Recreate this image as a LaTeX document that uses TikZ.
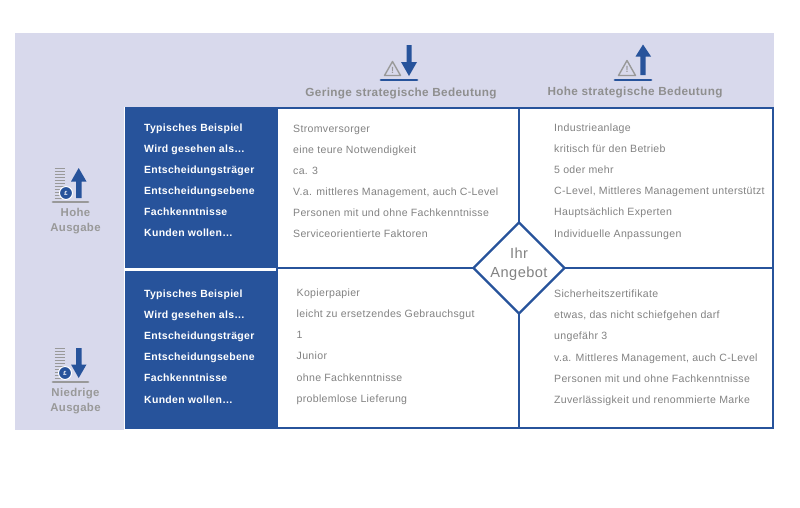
\documentclass[tikz,border=0pt]{standalone}
\usepackage{fontspec}
\setmainfont{Liberation Sans}
\newfontfamily\bodyfont[LetterSpace=3]{Liberation Sans}
\newfontfamily\headfont[LetterSpace=3]{Liberation Sans Bold}
\usetikzlibrary{shapes.geometric}
\definecolor{lav}{HTML}{D8D9EC}
\definecolor{bluem}{HTML}{27539B}
\definecolor{gtext}{HTML}{828282}
\definecolor{ghead}{HTML}{8F8F8F}
\definecolor{gicon}{HTML}{999999}
\tikzset{
  x=1pt,y=-1pt,
  body/.style={anchor=base west,inner sep=0pt,yshift=-3.6pt,text=gtext,font=\bodyfont\fontsize{10.55}{12}\selectfont},
  lab/.style={anchor=base west,inner sep=0pt,yshift=-4.1pt,text=white,font=\headfont\fontsize{10.45}{12}\selectfont},
  head/.style={anchor=base,inner sep=0pt,yshift=-4.8pt,text=ghead,font=\headfont\fontsize{11.75}{13}\selectfont},
  side/.style={anchor=base,inner sep=0pt,yshift=-3.3pt,text=gicon,font=\headfont\fontsize{11.4}{12}\selectfont},
  grid/.style={draw=bluem,line width=2.3pt},
  arrowfill/.style={fill=bluem,draw=none},
  base/.style={line width=2.8pt,line cap=round},
  warn/.style={draw=gicon,line width=1.4pt,line join=round,fill=none},
  stripe/.style={gicon,line width=1.6pt},
  coin/.style={circle,fill=bluem,draw=white,line width=1pt,minimum size=13pt,inner sep=0pt,text=white,font=\headfont\fontsize{6}{6}\selectfont},
}
\begin{document}
\begin{tikzpicture}
\useasboundingbox (0,0) rectangle (800,507);
\fill[white] (0,0) rectangle (800,507);
% lavender
\fill[lav] (15,33) rectangle (774,107);
\fill[lav] (15,33) rectangle (124,430);
% blue column
\fill[bluem] (125,107) rectangle (277,268);
\fill[bluem] (125,270.5) rectangle (277,429);
% grid
\coordinate (tl) at (277,108);
\coordinate (br) at (773,428);
\coordinate (vt) at (519,108);
\coordinate (vb) at (519,428);
\coordinate (hl) at (277,268);
\coordinate (hr) at (773,268);
\fill[white] (tl) rectangle (br);
\draw[grid] (tl) rectangle (br);
\draw[grid] (vt) -- (vb);
\draw[grid] (hl) -- (hr);
\node[diamond,shape aspect=1,minimum width=92pt,minimum height=92pt,inner sep=0pt,fill=white,draw=bluem,line width=2.3pt] (offer) at (519,268) {};
\node[anchor=center,inner sep=0pt,align=center,text=gtext,font=\bodyfont\fontsize{14.6}{19}\selectfont] (offertext) at (519,264) {Ihr\\Angebot};
% headers
\node[head] (h1) at (401,92) {Geringe strategische Bedeutung};
\node[head] (h2) at (635,90.5) {Hohe strategische Bedeutung};
% icon 1
\draw[bluem,base] (381,80) -- (417,80);
\draw[warn] (392.5,61.5) -- (400.5,75.5) -- (384.5,75.5) -- cycle;
\node[inner sep=0pt,text=gicon,font=\headfont\fontsize{9}{9}\selectfont] at (392.5,70) {!};
\fill[arrowfill] (406.5,45) -- (411.5,45) -- (411.5,62) -- (417,62) -- (409,76) -- (401,62) -- (406.5,62) -- cycle;
% icon 2
\draw[bluem,base] (615,80) -- (651,80);
\draw[warn] (627,60.5) -- (635.5,75.5) -- (618.5,75.5) -- cycle;
\node[inner sep=0pt,text=gicon,font=\headfont\fontsize{9}{9}\selectfont] at (627,69.5) {!};
\fill[arrowfill] (643,44.5) -- (651,56.5) -- (645.7,56.5) -- (645.7,75) -- (640.3,75) -- (640.3,56.5) -- (635.5,56.5) -- cycle;
% icon 3 (Hohe Ausgabe)
\foreach \yy in {168.5,171.5,...,198.5} \draw[stripe] (54.5,\yy) -- (64.5,\yy);
\draw[gicon,base] (53,202) -- (88,202);
\fill[arrowfill] (78.7,168) -- (86.5,181.5) -- (81.5,181.5) -- (81.5,198) -- (76,198) -- (76,181.5) -- (71,181.5) -- cycle;
\node[coin] (c1) at (66,193) {£};
% icon 4 (Niedrige Ausgabe)
\foreach \yy in {348.5,351.5,...,378.5} \draw[stripe] (54.5,\yy) -- (64.5,\yy);
\draw[gicon,base] (53,382) -- (88,382);
\fill[arrowfill] (76,348) -- (81.5,348) -- (81.5,364.5) -- (86.5,364.5) -- (78.7,378) -- (71,364.5) -- (76,364.5) -- cycle;
\node[coin] (c2) at (65,373) {£};
% side labels
\node[side] (s1) at (75.5,213) {Hohe};
\node[side] (s2) at (75.5,228) {Ausgabe};
\node[side] (s3) at (75.5,393.5) {Niedrige};
\node[side] (s4) at (75.5,408.5) {Ausgabe};
% labels top
\node[lab] (a1) at (144,127) {Typisches Beispiel};
\node[lab] (a2) at (144,148) {Wird gesehen als…};
\node[lab] (a3) at (144,169) {Entscheidungsträger};
\node[lab] (a4) at (144,190.5) {Entscheidungsebene};
\node[lab] (a5) at (144,211) {Fachkenntnisse};
\node[lab] (a6) at (144,232.5) {Kunden wollen…};
% labels bottom
\node[lab] (b1) at (144,293) {Typisches Beispiel};
\node[lab] (b2) at (144,314) {Wird gesehen als…};
\node[lab] (b3) at (144,335.5) {Entscheidungsträger};
\node[lab] (b4) at (144,356.5) {Entscheidungsebene};
\node[lab] (b5) at (144,377.5) {Fachkenntnisse};
\node[lab] (b6) at (144,399) {Kunden wollen…};
% cell top-left
\node[body] (c11) at (293,128.5) {Stromversorger};
\node[body] (c12) at (293,149.5) {eine teure Notwendigkeit};
\node[body] (c13) at (293,170.5) {ca. 3};
\node[body] (c14) at (293,191.5) {V.a. mittleres Management, auch C-Level};
\node[body] (c15) at (293,213) {Personen mit und ohne Fachkenntnisse};
\node[body] (c16) at (293,234) {Serviceorientierte Faktoren};
% cell top-right
\node[body] (d11) at (554,127.5) {Industrieanlage};
\node[body] (d12) at (554,148.5) {kritisch für den Betrieb};
\node[body] (d13) at (554,169.5) {5 oder mehr};
\node[body] (d14) at (554,190.5) {C-Level, Mittleres Management unterstützt};
\node[body] (d15) at (554,212) {Hauptsächlich Experten};
\node[body] (d16) at (554,233.5) {Individuelle Anpassungen};
% cell bottom-left
\node[body] (e11) at (296.5,293) {Kopierpapier};
\node[body] (e12) at (296.5,313.5) {leicht zu ersetzendes Gebrauchsgut};
\node[body] (e13) at (296.5,335) {1};
\node[body] (e14) at (296.5,356) {Junior};
\node[body] (e15) at (296.5,377.5) {ohne Fachkenntnisse};
\node[body] (e16) at (296.5,398.5) {problemlose Lieferung};
% cell bottom-right
\node[body] (f11) at (554,294) {Sicherheitszertifikate};
\node[body] (f12) at (554,315) {etwas, das nicht schiefgehen darf};
\node[body] (f13) at (554,336) {ungefähr 3};
\node[body] (f14) at (554,357.5) {v.a. Mittleres Management, auch C-Level};
\node[body] (f15) at (554,379) {Personen mit und ohne Fachkenntnisse};
\node[body] (f16) at (554,400) {Zuverlässigkeit und renommierte Marke};
\end{tikzpicture}
\end{document}
